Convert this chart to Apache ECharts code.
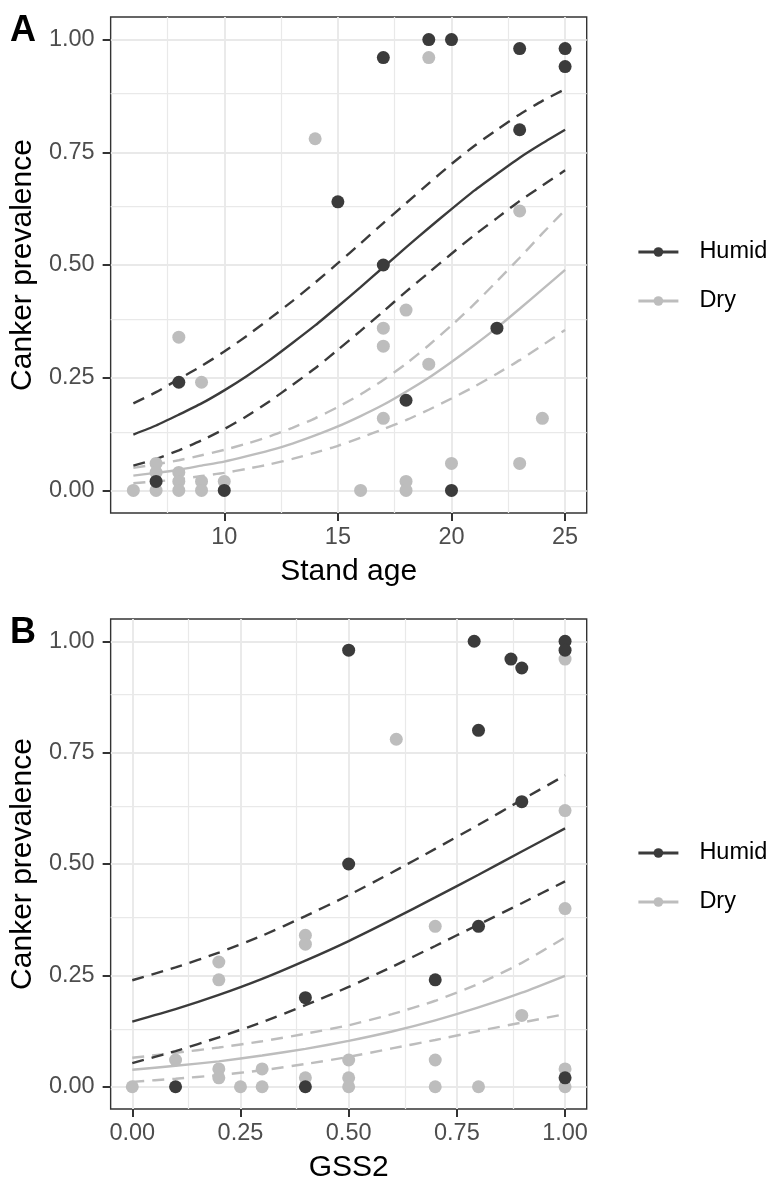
<!DOCTYPE html>
<html><head><meta charset="utf-8">
<script src="https://cdn.jsdelivr.net/npm/echarts@6/dist/echarts.min.js"></script>
<style>html,body{margin:0;padding:0;background:#fff}#c{width:771px;height:1184px}</style>
</head><body><div id="c"></div>
<script>
// ---------- Panel A : Stand age ----------
const humidAgeX = [7, 8, 10, 15, 17, 17, 18, 19, 20, 20, 22, 23, 23, 25, 25];
const humidAgeY = [0.02, 0.24, 0, 0.64, 0.96, 0.50, 0.20, 1.00, 1.00, 0, 0.36, 0.98, 0.80, 0.98, 0.94];
const dryAgeX = [6, 7, 7, 7, 8, 8, 8, 8, 9, 9, 9, 10, 14, 16, 17, 17, 17, 18, 18, 18, 19, 19, 20, 23, 23, 24];
const dryAgeY = [0, 0.06, 0.04, 0, 0.34, 0.04, 0.02, 0, 0.24, 0.02, 0, 0.02, 0.78, 0, 0.36, 0.32, 0.16, 0.40, 0.02, 0, 0.96, 0.28, 0.06, 0.62, 0.06, 0.16];

const curveAgeX = [6, 7, 8, 9, 10, 11, 12, 13, 14, 15, 16, 17, 18, 19, 20, 21, 22, 23, 24, 25];
const humidAgeFit = [0.124, 0.144, 0.168, 0.193, 0.222, 0.254, 0.289, 0.327, 0.366, 0.408, 0.451, 0.495, 0.539, 0.582, 0.624, 0.665, 0.702, 0.738, 0.770, 0.800];
const humidAgeUpper = [0.193, 0.218, 0.247, 0.276, 0.308, 0.343, 0.381, 0.420, 0.461, 0.504, 0.548, 0.593, 0.637, 0.681, 0.724, 0.764, 0.800, 0.834, 0.864, 0.890];
const humidAgeLower = [0.055, 0.070, 0.089, 0.111, 0.136, 0.165, 0.198, 0.234, 0.271, 0.312, 0.354, 0.397, 0.441, 0.483, 0.525, 0.566, 0.604, 0.642, 0.676, 0.710];
const dryAgeFit = [0.033, 0.039, 0.046, 0.055, 0.064, 0.076, 0.089, 0.104, 0.122, 0.142, 0.165, 0.190, 0.219, 0.250, 0.285, 0.322, 0.361, 0.403, 0.446, 0.489];
const dryAgeUpper = [0.050, 0.058, 0.067, 0.078, 0.090, 0.104, 0.120, 0.139, 0.160, 0.185, 0.213, 0.245, 0.281, 0.322, 0.366, 0.413, 0.464, 0.516, 0.570, 0.622];
const dryAgeLower = [0.016, 0.020, 0.025, 0.032, 0.039, 0.048, 0.058, 0.070, 0.084, 0.099, 0.117, 0.136, 0.156, 0.179, 0.204, 0.230, 0.259, 0.289, 0.322, 0.356];

// ---------- Panel B : GSS2 ----------
const humidGssX = [0.1, 0.4, 0.4, 0.5, 0.5, 0.7, 0.79, 0.8, 0.8, 0.875, 0.9, 0.9, 1, 1, 1];
const humidGssY = [0, 0.20, 0, 0.98, 0.50, 0.24, 1.00, 0.80, 0.36, 0.96, 0.94, 0.64, 1.00, 0.98, 0.02];
const dryGssX = [0, 0.1, 0.2, 0.2, 0.2, 0.2, 0.25, 0.3, 0.3, 0.4, 0.4, 0.4, 0.5, 0.5, 0.5, 0.61, 0.7, 0.7, 0.7, 0.8, 0.9, 1, 1, 1, 1, 1];
const dryGssY = [0, 0.06, 0.28, 0.24, 0.04, 0.02, 0, 0.04, 0, 0.34, 0.32, 0.02, 0.06, 0.02, 0, 0.78, 0.36, 0.06, 0, 0, 0.16, 0.96, 0.62, 0.40, 0.04, 0];

const curveGssX = [0, 0.1, 0.2, 0.3, 0.4, 0.5, 0.6, 0.7, 0.8, 0.9, 1.0];
const humidGssFit = [0.146, 0.174, 0.206, 0.242, 0.283, 0.327, 0.375, 0.425, 0.476, 0.528, 0.580];
const humidGssUpper = [0.239, 0.268, 0.301, 0.339, 0.383, 0.430, 0.481, 0.534, 0.588, 0.644, 0.699];
const humidGssLower = [0.053, 0.080, 0.111, 0.145, 0.183, 0.224, 0.269, 0.316, 0.364, 0.412, 0.461];
const dryGssFit = [0.038, 0.047, 0.057, 0.070, 0.085, 0.103, 0.124, 0.149, 0.178, 0.211, 0.249];
const dryGssUpper = [0.065, 0.076, 0.088, 0.102, 0.119, 0.138, 0.163, 0.193, 0.231, 0.278, 0.335];
const dryGssLower = [0.011, 0.018, 0.026, 0.037, 0.051, 0.067, 0.086, 0.105, 0.125, 0.144, 0.163];

// ---------- ticks / labels ----------
const ageTicks = [10, 15, 20, 25];
const ageMinor = [7.5, 12.5, 17.5, 22.5];
const gssTicks = [0, 0.25, 0.5, 0.75, 1];
const gssMinor = [0.125, 0.375, 0.625, 0.875];
const probTicks = [0, 0.25, 0.5, 0.75, 1];
const probMinor = [0.125, 0.375, 0.625, 0.875];
const groups = ['Humid', 'Dry'];
const panelLabels = ['A', 'B'];
const axisTitles = { y: 'Canker prevalence', xA: 'Stand age', xB: 'GSS2' };

const FONT = '"Liberation Sans", Arial, Helvetica, sans-serif';
const DARK = '#3b3b3b', LIGHT = '#bdbdbd';
const GRID = '#e9e9e9';
const zip = (xs, ys) => xs.map((x, i) => [x, ys[i]]);

function xAxisCfg(gi, min, max, interval, ticks, name, gap, fmt) {
  return {
    gridIndex: gi, type: 'value', min: min, max: max, interval: interval,
    name: name, nameLocation: 'middle', nameGap: gap,
    nameTextStyle: { fontSize: 30, color: '#000', fontFamily: FONT },
    axisLine: { show: false, onZero: false },
    axisTick: { show: true, customValues: ticks, length: 8, lineStyle: { color: '#333', width: 2 } },
    axisLabel: { customValues: ticks, fontSize: 23.5, color: '#4d4d4d', margin: 12.5, fontFamily: FONT, formatter: fmt },
    splitLine: { show: true, lineStyle: { color: GRID, width: 1.9 } }
  };
}
function yAxisCfg(gi) {
  return {
    gridIndex: gi, type: 'value', min: -0.05, max: 1.05, interval: 0.125,
    name: axisTitles.y, nameLocation: 'middle', nameGap: 67,
    nameTextStyle: { fontSize: 30, color: '#000', fontFamily: FONT },
    axisLine: { show: false, onZero: false },
    axisTick: { show: true, customValues: probTicks, length: 8, lineStyle: { color: '#333', width: 2 } },
    axisLabel: { customValues: probTicks, fontSize: 23.5, color: '#4d4d4d', margin: 16, fontFamily: FONT, formatter: v => v.toFixed(2) },
    splitLine: { show: true, lineStyle: { color: GRID, width: 1.9 } }
  };
}
// minor grid lines, placed through the axes' own scales
function minorGridS(gi, xVals, yVals) {
  return {
    name: 'minorGrid' + gi, type: 'line', xAxisIndex: gi, yAxisIndex: gi, data: [],
    silent: true, z: 1, showSymbol: false,
    markLine: {
      z: 1, silent: true, animation: false, symbol: ['none', 'none'], label: { show: false },
      emphasis: { disabled: true },
      lineStyle: { color: GRID, width: 1.25, type: 'solid' },
      data: xVals.map(v => ({ xAxis: v })).concat(yVals.map(v => ({ yAxis: v })))
    }
  };
}
function lineS(name, gi, xs, ys, color, dashed) {
  return {
    name: name, type: 'line', xAxisIndex: gi, yAxisIndex: gi,
    data: zip(xs, ys), symbol: 'circle', symbolSize: 12, showSymbol: false, smooth: 0.2,
    itemStyle: { color: color },
    lineStyle: { color: color, width: 2.4, type: dashed ? [12, 8] : 'solid' },
    z: 8, silent: true
  };
}
function ptsS(name, gi, xs, ys, color) {
  return {
    name: name, type: 'scatter', xAxisIndex: gi, yAxisIndex: gi,
    data: zip(xs, ys), symbol: 'circle', symbolSize: 13,
    itemStyle: { color: color, opacity: 1 }, z: 9, silent: true
  };
}

const series = [
  lineS(groups[0], 0, curveAgeX, humidAgeFit, DARK, false),
  lineS(groups[1], 0, curveAgeX, dryAgeFit, LIGHT, false),
  minorGridS(0, ageMinor, probMinor),
  lineS('dryUpperA', 0, curveAgeX, dryAgeUpper, LIGHT, true),
  lineS('dryLowerA', 0, curveAgeX, dryAgeLower, LIGHT, true),
  lineS('humidUpperA', 0, curveAgeX, humidAgeUpper, DARK, true),
  lineS('humidLowerA', 0, curveAgeX, humidAgeLower, DARK, true),
  ptsS('dryPtsA', 0, dryAgeX, dryAgeY, LIGHT),
  ptsS('humidPtsA', 0, humidAgeX, humidAgeY, DARK),

  lineS(groups[0], 1, curveGssX, humidGssFit, DARK, false),
  lineS(groups[1], 1, curveGssX, dryGssFit, LIGHT, false),
  minorGridS(1, gssMinor, probMinor),
  lineS('dryUpperB', 1, curveGssX, dryGssUpper, LIGHT, true),
  lineS('dryLowerB', 1, curveGssX, dryGssLower, LIGHT, true),
  lineS('humidUpperB', 1, curveGssX, humidGssUpper, DARK, true),
  lineS('humidLowerB', 1, curveGssX, humidGssLower, DARK, true),
  ptsS('dryPtsB', 1, dryGssX, dryGssY, LIGHT),
  ptsS('humidPtsB', 1, humidGssX, humidGssY, DARK)
];

function legendCfg(top) {
  return {
    left: 632, top: top, orient: 'vertical', data: groups, selectedMode: false,
    itemWidth: 40, itemHeight: 12, itemGap: 25,
    lineStyle: { width: 2.8 },
    textStyle: { fontSize: 23.5, color: '#000', fontFamily: FONT, padding: [0, 0, 0, 16] }
  };
}

const option = {
  animation: false,
  backgroundColor: '#fff',
  textStyle: { fontFamily: FONT },
  grid: [
    { left: 108.2, top: 17, width: 478.5, height: 496, show: true, borderColor: '#333', borderWidth: 1.4, backgroundColor: 'transparent' },
    { left: 109.3, top: 619, width: 477.4, height: 496, show: true, borderColor: '#333', borderWidth: 1.4, backgroundColor: 'transparent' }
  ],
  xAxis: [
    xAxisCfg(0, 5, 25.95, 2.5, ageTicks, axisTitles.xA, 44, v => String(v)),
    xAxisCfg(1, -0.05, 1.05, 0.125, gssTicks, axisTitles.xB, 44, v => v.toFixed(2))
  ],
  yAxis: [yAxisCfg(0), yAxisCfg(1)],
  legend: [legendCfg(235), legendCfg(836)],
  graphic: [
    { type: 'text', left: 10, top: 13, style: { text: panelLabels[0], fontSize: 36, fontWeight: 'bold', fill: '#000', fontFamily: FONT } },
    { type: 'text', left: 10, top: 615, style: { text: panelLabels[1], fontSize: 36, fontWeight: 'bold', fill: '#000', fontFamily: FONT } }
  ],
  series: series
};

const chart = echarts.init(document.getElementById('c'), null, { renderer: 'canvas' });
chart.setOption(option);
</script>
</body></html>
